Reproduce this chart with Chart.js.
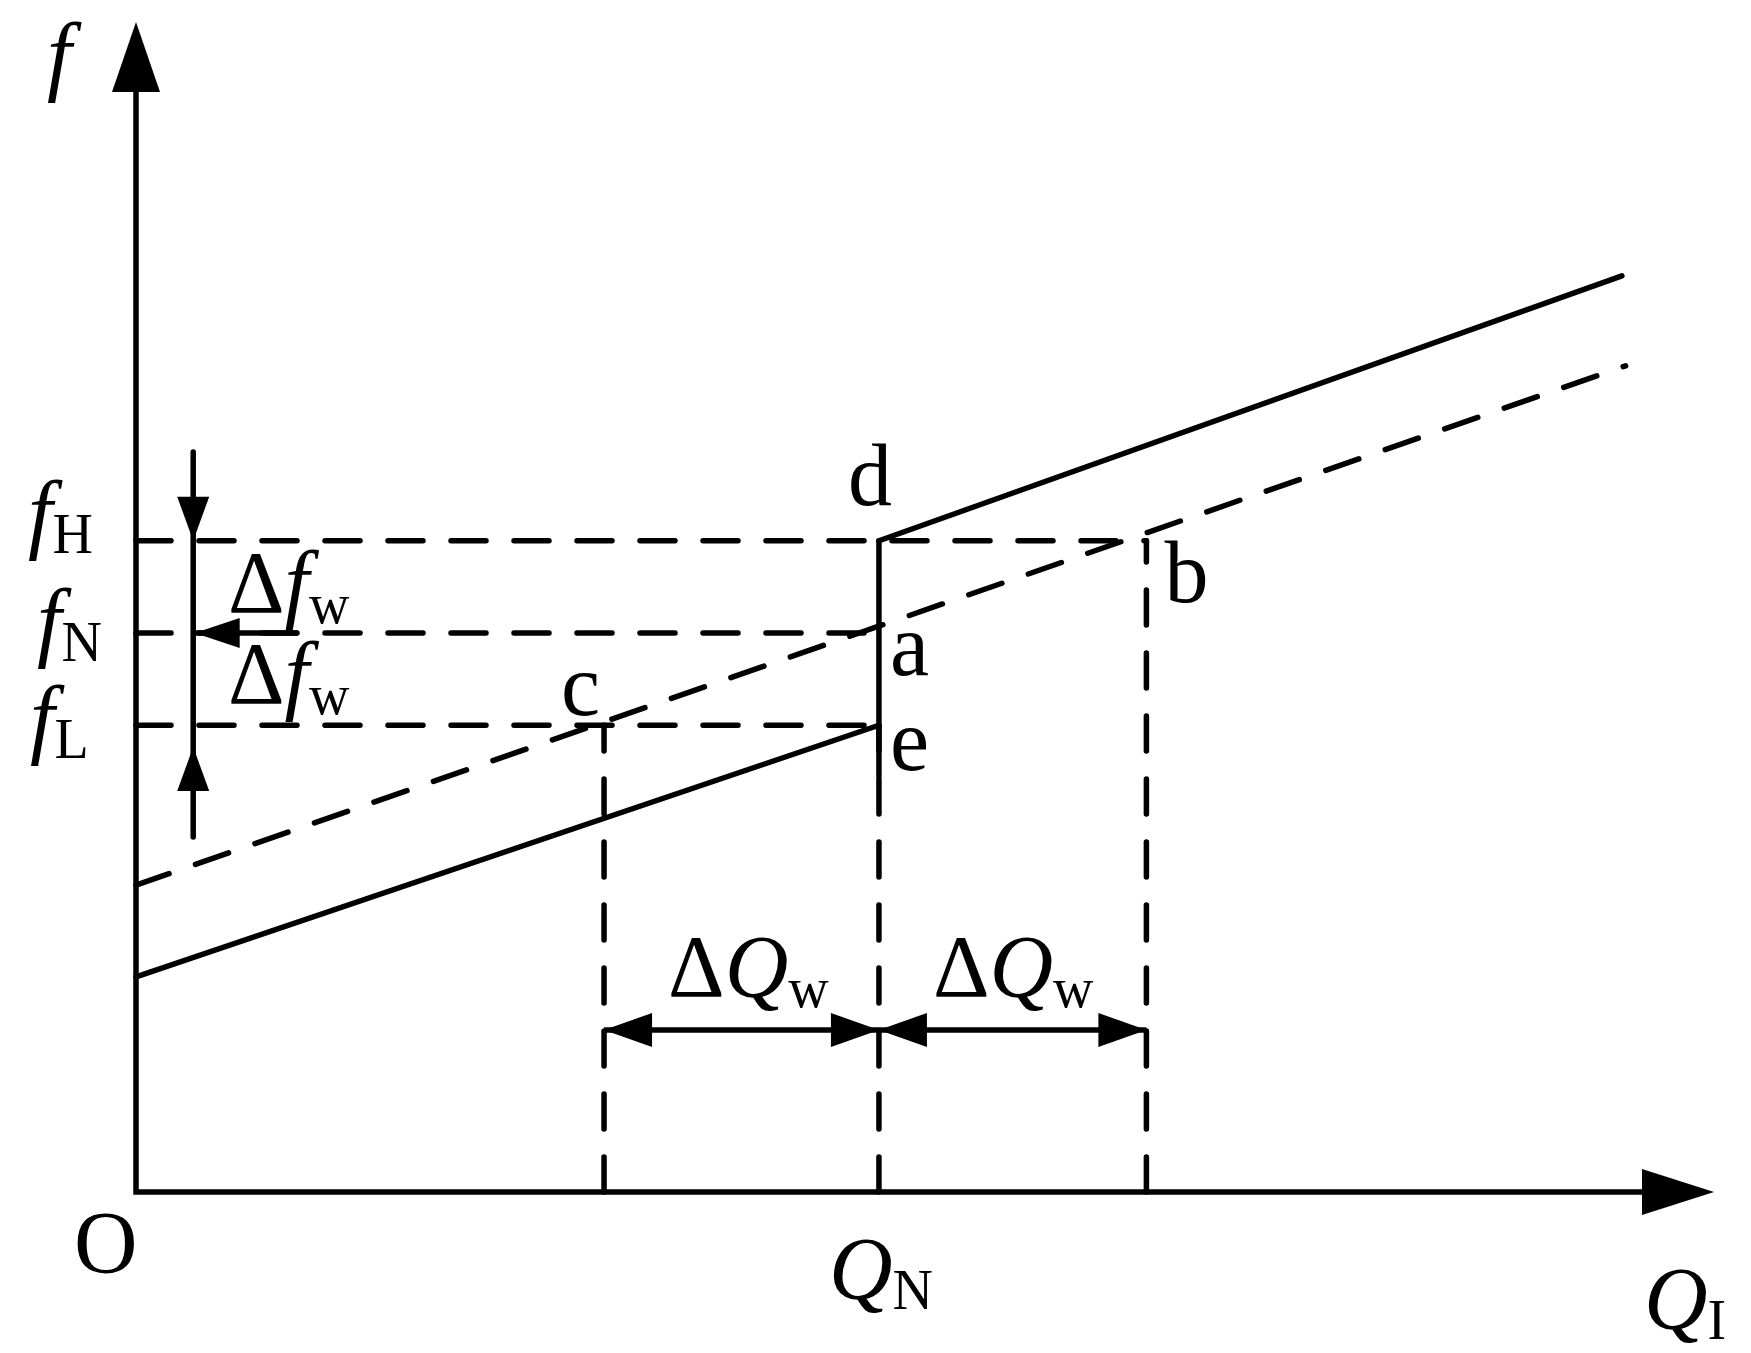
<!DOCTYPE html>
<html>
<head>
<meta charset="utf-8">
<title>f - Q characteristic</title>
<script src="https://cdn.jsdelivr.net/npm/chart.js@4.4.1/dist/chart.umd.min.js"></script>
<style>
  html, body { margin: 0; padding: 0; background: #fff; }
  #wrap { width: 1751px; height: 1353px; }
</style>
</head>
<body>
<div id="wrap"><canvas id="chart" width="1751" height="1353"></canvas></div>
<script>
// Q in units of Q_N, f in units of f_N (schematic)
const axisEnd = [2.124, 2.093];          // arrow tips of Q_I and f axes
const qMarks = [0.63, 1.0, 1.36];        // c, Q_N, b
const fLevels = [0.835, 1.0, 1.165];     // f_L, f_N, f_H
const lowSolid = [[0, 0.385], [1.0, 0.835]];
const highSolid = [[1.0, 1.165], [2.0, 1.639]];
const dashedLine = [[0, 0.549], [2.005, 1.478]];
const stepBottom = 0.744;                // solid step at Q_N reaches a bit below e
const bracketX = 0.077;
const bracketSpan = [0.635, 1.324];
const bracketUpTip = 0.796;
const fnArrowEnd = 0.218;
const dqArrowY = 0.29;

const [fL, fN, fH] = fLevels;
const [qc, qN, qb] = qMarks;

const pts = arr => arr.map(([x, y]) => ({ x, y }));

const solid = { borderColor: '#000', borderWidth: 5.5, pointRadius: 0, showLine: true, fill: false, clip: false, borderCapStyle: 'round', borderJoinStyle: 'miter' };
const dashed = Object.assign({}, solid, { borderDash: [35, 28] });

const datasets = [
  Object.assign({}, solid, { data: pts([[0, axisEnd[1] - 0.1], [0, 0], [axisEnd[0] - 0.08, 0]]), borderCapStyle: 'butt' }),
  Object.assign({}, solid, { data: pts(lowSolid) }),
  Object.assign({}, solid, { data: pts([[qN, stepBottom], [qN, fH]]) }),
  Object.assign({}, solid, { data: pts(highSolid) }),
  Object.assign({}, dashed, { data: pts(dashedLine) }),
  Object.assign({}, dashed, { data: pts([[0, fH], [qb, fH]]) }),
  Object.assign({}, dashed, { data: pts([[0, fN], [qN, fN]]) }),
  Object.assign({}, dashed, { data: pts([[0, fL], [qN, fL]]) }),
  Object.assign({}, dashed, { data: pts([[qc, 0], [qc, fL]]) }),
  Object.assign({}, dashed, { data: pts([[qN, 0], [qN, fL]]) }),
  Object.assign({}, dashed, { data: pts([[qb, 0], [qb, fH]]) }),
  Object.assign({}, solid, { data: pts([[bracketX, bracketSpan[1]], [bracketX, bracketSpan[0]]]) }),
  Object.assign({}, solid, { data: pts([[bracketX, fN], [fnArrowEnd, fN]]), borderCapStyle: 'butt' }),
  Object.assign({}, solid, { data: pts([[qc, dqArrowY], [qb, dqArrowY]]), borderCapStyle: 'butt' })
];

const arrowHeads = [
  { x: 0, y: axisEnd[1], dir: [0, 1], len: 70, half: 24 },
  { x: axisEnd[0], y: 0, dir: [1, 0], len: 72, half: 23 },
  { x: bracketX, y: fH, dir: [0, -1], len: 44, half: 16 },
  { x: bracketX, y: bracketUpTip, dir: [0, 1], len: 44, half: 16 },
  { x: bracketX + 0.002, y: fN, dir: [-1, 0], len: 45, half: 15 },
  { x: qc, y: dqArrowY, dir: [-1, 0], len: 48, half: 17 },
  { x: qN, y: dqArrowY, dir: [1, 0], len: 48, half: 17 },
  { x: qN, y: dqArrowY, dir: [-1, 0], len: 48, half: 17 },
  { x: qb, y: dqArrowY, dir: [1, 0], len: 48, half: 17 }
];

// runs: [text, 'i' italic | 'r' roman | 's' subscript]
const labels = [
  { x: 0, y: axisEnd[1], dx: -89, dy: 62, runs: [['f', 'i']] },
  { x: 0, y: fH, dx: -108, dy: 1, runs: [['f', 'i'], ['H', 's']] },
  { x: 0, y: fN, dx: -99, dy: 17, runs: [['f', 'i'], ['N', 's']] },
  { x: 0, y: fL, dx: -106, dy: 22, runs: [['f', 'i'], ['L', 's']] },
  { x: 0, y: fN, dx: 92, dy: -21, runs: [['\u0394', 'r'], ['f', 'i'], ['w', 's']] },
  { x: 0, y: fL, dx: 92, dy: -22, runs: [['\u0394', 'r'], ['f', 'i'], ['w', 's']] },
  { x: qN, y: fH, dx: -31, dy: -36, runs: [['d', 'r']] },
  { x: qN, y: fN, dx: 11, dy: 42, runs: [['a', 'r']] },
  { x: qN, y: fL, dx: 11, dy: 45, runs: [['e', 'r']] },
  { x: qb, y: fH, dx: 18, dy: 61, runs: [['b', 'r']] },
  { x: qc, y: fL, dx: -43, dy: -10, runs: [['c', 'r']] },
  { x: 0, y: 0, dx: -62, dy: 80, runs: [['O', 'r']] },
  { x: qN, y: 0, dx: -50, dy: 106, runs: [['Q', 'i'], ['N', 's']] },
  { x: axisEnd[0], y: 0, dx: -70, dy: 136, runs: [['Q', 'i'], ['I', 's']] },
  { x: qc, y: dqArrowY, dx: 64, dy: -34, runs: [['\u0394', 'r'], ['Q', 'i'], ['w', 's']] },
  { x: qN, y: dqArrowY, dx: 54, dy: -34, runs: [['\u0394', 'r'], ['Q', 'i'], ['w', 's']] }
];

const FAMILY = '"Liberation Serif", "Times New Roman", serif';
const fonts = {
  i: 'italic 88px ' + FAMILY,
  r: '88px ' + FAMILY,
  s: '56px ' + FAMILY
};

const sketchPlugin = {
  id: 'sketch',
  afterDatasetsDraw(chart) {
    const { ctx, scales: { x, y } } = chart;
    ctx.save();
    ctx.fillStyle = '#000';
    arrowHeads.forEach(a => {
      const px = x.getPixelForValue(a.x);
      const py = y.getPixelForValue(a.y);
      const ux = a.dir[0], uy = -a.dir[1];
      const bx = px - ux * a.len, by = py - uy * a.len;
      ctx.beginPath();
      ctx.moveTo(px, py);
      ctx.lineTo(bx - uy * a.half, by + ux * a.half);
      ctx.lineTo(bx + uy * a.half, by - ux * a.half);
      ctx.closePath();
      ctx.fill();
    });
    ctx.textBaseline = 'alphabetic';
    ctx.textAlign = 'left';
    labels.forEach(l => {
      let cx = x.getPixelForValue(l.x) + l.dx;
      const base = y.getPixelForValue(l.y) + l.dy;
      l.runs.forEach(([t, kind]) => {
        ctx.font = fonts[kind];
        ctx.fillText(t, cx, kind === 's' ? base + 11 : base);
        cx += ctx.measureText(t).width;
      });
    });
    ctx.restore();
  }
};

new Chart(document.getElementById('chart'), {
  type: 'scatter',
  data: { datasets },
  options: {
    responsive: false,
    animation: false,
    devicePixelRatio: 1,
    events: [],
    layout: { padding: { left: 136, right: 37, top: 22, bottom: 161 } },
    plugins: { legend: { display: false }, tooltip: { enabled: false } },
    scales: {
      x: { type: 'linear', min: 0, max: axisEnd[0], display: false },
      y: { type: 'linear', min: 0, max: axisEnd[1], display: false }
    }
  },
  plugins: [sketchPlugin]
});
</script>
</body>
</html>
